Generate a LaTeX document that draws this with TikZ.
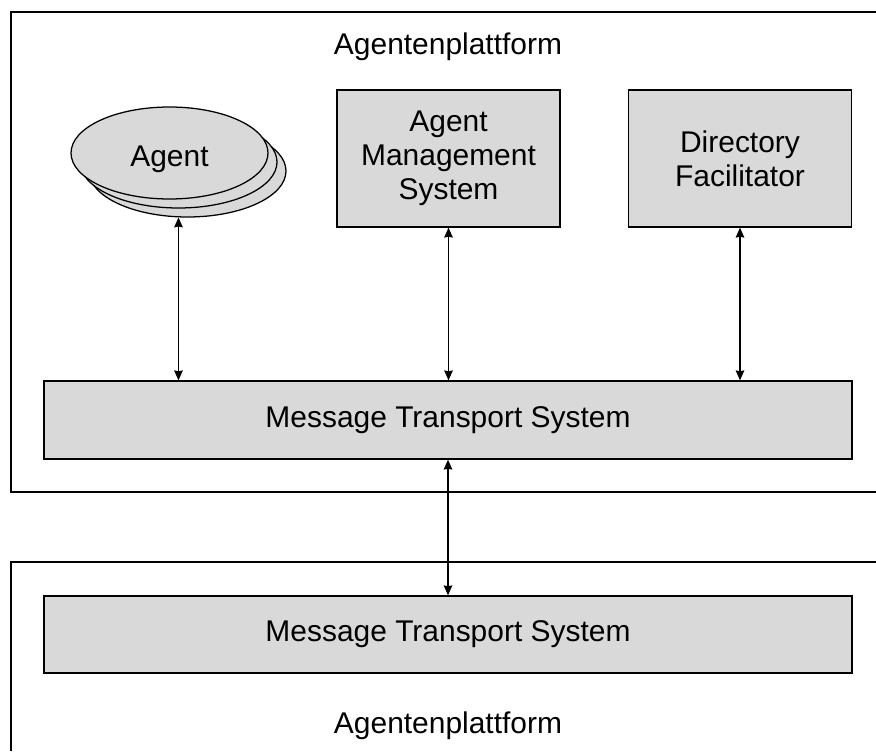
\documentclass[tikz,border=0pt]{standalone}
\usepackage{fontspec}
\setmainfont{Liberation Sans}
\usepackage{tikz}
\usetikzlibrary{shapes.geometric, arrows.meta}
\tikzset{>={Stealth[length=7pt, width=6pt, inset=0.5pt]}}
\tikzset{
    box/.style={draw, line width=0.9pt, fill=boxgray, align=center,
        font=\fontsize{21.3}{24.2}\selectfont},
    agentshape/.style={draw, line width=0.9pt, fill=boxgray, ellipse,
        minimum width=49.25mm, minimum height=23mm, inner sep=0pt},
    link/.style={<->, line width=1.1pt}
}
\definecolor{boxgray}{HTML}{D9D9D9}

\begin{document}
\begin{tikzpicture}[x=0.25mm, y=-0.25mm]
    \useasboundingbox (0,0) rectangle (876,751);
    % platforms
    \draw[line width=0.9pt] (876,12) -- (11,12) -- (11,492) -- (876,492);
    \draw[line width=0.9pt] (876,562) -- (11,562) -- (11,751);
    \node[font=\fontsize{21.3}{24.2}\selectfont, anchor=base] (titletop) at (448,55) {Agentenplattform};
    \node[font=\fontsize{21.3}{24.2}\selectfont, anchor=base] (titlebot) at (448,733) {Agentenplattform};
    % agents
    \node[agentshape] (agent3) at (187.5,171) {};
    \node[agentshape] (agent2) at (178.5,162) {};
    \node[agentshape, font=\fontsize{21.3}{24.2}\selectfont,
        text height=24pt, text depth=4.5pt] (agent) at (169.5,153) {Agent};
    % boxes
    \node[box, minimum width=55.75mm, minimum height=34.25mm] (ams) at (448.5,158.5) {Agent\\Management\\System};
    \node[box, minimum width=55.75mm, minimum height=34.25mm] (df) at (740,158.5) {Directory\\Facilitator};
    \node[box, minimum width=202mm, minimum height=19.5mm] (mtstop) at (448,420) {Message Transport System};
    \node[box, minimum width=202mm, minimum height=19.25mm] (mtsbot) at (448,634.5) {Message Transport System};
    % links
    \draw[link] (agent3.259) -- (agent3.259 |- mtstop.north);
    \draw[link] (ams.south) -- (ams.south |- mtstop.north);
    \draw[link] (df.south) -- (df.south |- mtstop.north);
    \draw[link] (mtstop.south) -- (mtsbot.north);
\end{tikzpicture}
\end{document}
